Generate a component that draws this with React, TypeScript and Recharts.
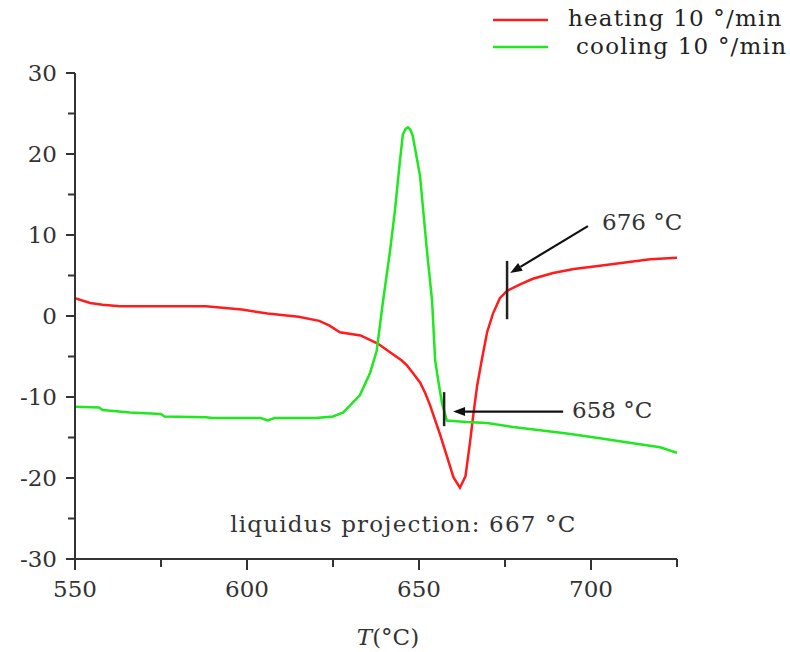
import React from 'react';
import { LineChart, Line, XAxis, YAxis, ReferenceLine, ReferenceDot } from 'recharts';

// heating curve, 10 °/min (T in °C, signal)
const heatT = [550, 554.4, 558, 563, 575, 588, 598.5, 606, 615, 621, 624, 627, 633, 638, 642, 645, 646.5, 648, 650.3, 651.8, 653.2, 656.1, 658.1, 660, 661.9, 663.5, 664.8, 665.7, 666.9, 668.3, 669.8, 671.5, 673.5, 675.6, 679.4, 683.1, 689, 695, 702.6, 709.9, 717.2, 725];
const heatV = [2.2, 1.6, 1.4, 1.2, 1.2, 1.2, 0.8, 0.3, -0.1, -0.6, -1.2, -2.0, -2.4, -3.4, -4.6, -5.5, -6.1, -6.9, -8.2, -9.5, -11.0, -14.6, -17.3, -19.9, -21.2, -19.8, -15.7, -12.5, -8.6, -5.3, -2.0, 0.3, 2.2, 3.1, 3.9, 4.6, 5.3, 5.8, 6.2, 6.6, 7.0, 7.2];

// cooling curve, 10 °/min
const coolT = [550, 557, 558, 566, 575, 576, 588, 590, 604, 606, 608, 620, 625, 628, 632.8, 635.8, 637.7, 639.5, 641.6, 643, 644.3, 645.3, 646.1, 646.8, 647.5, 648.2, 650.3, 652.3, 653.8, 654.7, 655.6, 656.7, 658.1, 663.9, 669.8, 677.3, 685.2, 693, 702.6, 712.2, 720.1, 725];
const coolV = [-11.2, -11.3, -11.6, -11.9, -12.1, -12.4, -12.5, -12.6, -12.6, -12.9, -12.6, -12.6, -12.4, -11.9, -9.8, -7.0, -4.3, 1.7, 8.1, 13.0, 18.5, 22.4, 23.1, 23.3, 23.0, 22.2, 17.3, 8.1, 1.9, -5.5, -8.0, -10.8, -12.9, -13.1, -13.2, -13.7, -14.1, -14.5, -15.1, -15.7, -16.2, -16.9];

const xTicks = [550, 575, 600, 625, 650, 675, 700, 725];
const yTicks = [-30, -25, -20, -15, -10, -5, 0, 5, 10, 15, 20, 25, 30];

// onset markers (vertical bars) and arrows, in data units
const markers = [
  { x: 675.6, y1: -0.4, y2: 6.8 },
  { x: 657.3, y1: -13.6, y2: -9.4 },
];
const arrows = [
  { x1: 699.1, y1: 11.1, x2: 676.5, y2: 5.3 },
  { x1: 691.9, y1: -11.8, x2: 659.9, y2: -11.8 },
];
const notes = [
  { x: 703.2, y: 11.6, text: '676 °C', spacing: 0 },
  { x: 694.5, y: -11.6, text: '658 °C', spacing: 0 },
  { x: 595.1, y: -25.7, text: 'liquidus projection: 667 °C', spacing: 1.2 },
];

const FONT = '"DejaVu Serif", serif';
const AXIS = '#333';

const heating = heatT.map((t, i) => ({ t, v: heatV[i] }));
const cooling = coolT.map((t, i) => ({ t, v: coolV[i] }));

const XTick = (props: any) => {
  const { x, y, payload } = props;
  const major = payload.value % 50 === 0;
  return (
    <g>
      <line x1={x} y1={y} x2={x} y2={y + (major ? 11 : 8)} stroke={AXIS} strokeWidth={2} />
      {major && (
        <text x={x} y={y + 38} textAnchor="middle" fontFamily={FONT} fontSize={23} fill="#333">
          {payload.value}
        </text>
      )}
    </g>
  );
};

const YTick = (props: any) => {
  const { x, y, payload } = props;
  const major = payload.value % 10 === 0;
  return (
    <g>
      <line x1={x - (major ? 9 : 7)} y1={y} x2={x} y2={y} stroke={AXIS} strokeWidth={2} />
      {major && (
        <text x={x - 18} y={y + 8} textAnchor="end" fontFamily={FONT} fontSize={23} fill="#333">
          {payload.value}
        </text>
      )}
    </g>
  );
};

const AxisTitle = (props: any) => {
  const vb = props.viewBox || { x: 75, y: 559, width: 602, height: 60 };
  return (
    <text x={vb.x + vb.width / 2 + 12} y={vb.y + 86} textAnchor="middle" fontFamily={FONT} fontSize={23} fill="#333">
      <tspan fontStyle="italic">T</tspan>(°C)
    </text>
  );
};

const Arrow = (props: any) => {
  const { x1, y1, x2, y2 } = props;
  const dx = x2 - x1;
  const dy = y2 - y1;
  const len = Math.sqrt(dx * dx + dy * dy) || 1;
  const ux = dx / len;
  const uy = dy / len;
  const hl = 12;
  const hw = 4.5;
  const bx = x2 - ux * hl;
  const by = y2 - uy * hl;
  return (
    <g>
      <line x1={x1} y1={y1} x2={bx} y2={by} stroke="#111" strokeWidth={2.2} />
      <polygon
        points={`${x2},${y2} ${bx - uy * hw},${by + ux * hw} ${bx + uy * hw},${by - ux * hw}`}
        fill="#111"
      />
    </g>
  );
};

const Bar = (props: any) => {
  const { x1, y1, x2, y2 } = props;
  return <line x1={x1} y1={y1} x2={x2} y2={y2} stroke="#222" strokeWidth={2.5} />;
};

export default function App() {
  return (
    <div style={{ position: 'absolute', left: 0, top: 0, width: 790, height: 652, background: '#fff' }}>
      <LineChart width={790} height={652} margin={{ top: 73, right: 113, bottom: 33, left: 15 }}>
        <XAxis
          type="number"
          dataKey="t"
          domain={[550, 725]}
          ticks={xTicks}
          allowDataOverflow
          height={60}
          tickSize={0}
          tickMargin={0}
          tickLine={false}
          tick={<XTick />}
          axisLine={{ stroke: AXIS, strokeWidth: 2 }}
          label={{ content: AxisTitle }}
        />
        <YAxis
          type="number"
          dataKey="v"
          domain={[-30, 30]}
          ticks={yTicks}
          allowDataOverflow
          width={60}
          tickSize={0}
          tickMargin={0}
          tickLine={false}
          tick={<YTick />}
          axisLine={{ stroke: AXIS, strokeWidth: 2 }}
        />
        <Line data={heating} dataKey="v" type="linear" stroke="#ff1c1c" strokeWidth={2.5} dot={false} isAnimationActive={false} />
        <Line data={cooling} dataKey="v" type="linear" stroke="#1fe81f" strokeWidth={2.5} dot={false} isAnimationActive={false} />
        {markers.map((m, i) => (
          <ReferenceLine key={'m' + i} segment={[{ x: m.x, y: m.y1 }, { x: m.x, y: m.y2 }]} shape={Bar} ifOverflow="visible" />
        ))}
        {arrows.map((a, i) => (
          <ReferenceLine key={'a' + i} segment={[{ x: a.x1, y: a.y1 }, { x: a.x2, y: a.y2 }]} shape={Arrow} ifOverflow="visible" />
        ))}
        {notes.map((n, i) => (
          <ReferenceDot
            key={'n' + i}
            x={n.x}
            y={n.y}
            r={0}
            ifOverflow="visible"
            shape={(p: any) => (
              <text x={p.cx} y={p.cy + 8} fontFamily={FONT} fontSize={23} fill="#333" letterSpacing={n.spacing}>
                {n.text}
              </text>
            )}
          />
        ))}
      </LineChart>
      <svg width={310} height={64} style={{ position: 'absolute', left: 480, top: 0 }}>
        <line x1={13} y1={20} x2={68} y2={20} stroke="#ff1c1c" strokeWidth={2.5} />
        <text x={88} y={26} fontFamily={FONT} fontSize={23} fill="#222" letterSpacing={1.2}>heating 10 °/min</text>
        <line x1={13} y1={47} x2={68} y2={47} stroke="#1fe81f" strokeWidth={2.5} />
        <text x={96} y={54} fontFamily={FONT} fontSize={23} fill="#222" letterSpacing={1.2}>cooling 10 °/min</text>
      </svg>
    </div>
  );
}
